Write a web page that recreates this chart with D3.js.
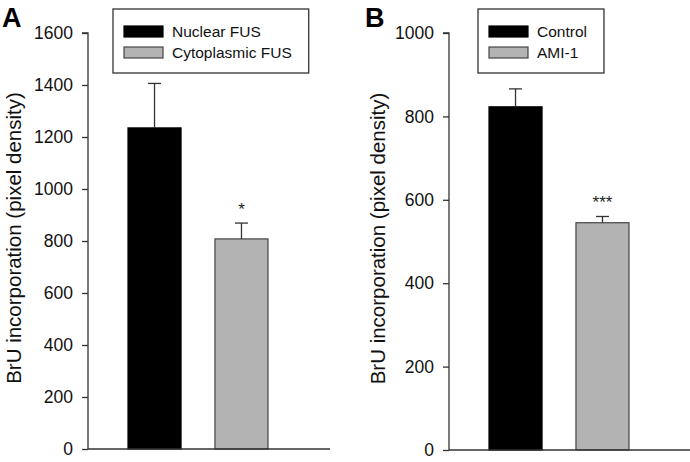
<!DOCTYPE html>
<html>
<head>
<meta charset="utf-8">
<script src="https://cdn.jsdelivr.net/npm/d3@7"></script>
<style>
	body { margin: 0; background: #fff; }
	svg { display: block; font-family: "Liberation Sans", Arial, sans-serif; }
</style>
</head>
<body>
<svg id="chart" width="690" height="462"></svg>
<script>
// panel A
const catsA = ["Nuclear FUS", "Cytoplasmic FUS"];
const valuesA = [1235, 808];
const errorsA = [171, 61];
const sigA = ["", "*"];
const ticksA = [0, 200, 400, 600, 800, 1000, 1200, 1400, 1600];

// panel B
const catsB = ["Control", "AMI-1"];
const valuesB = [823, 545];
const errorsB = [43, 15];
const sigB = ["", "***"];
const ticksB = [0, 200, 400, 600, 800, 1000];

const fills = ["#000000", "#b3b3b3"];
const strokes = ["#000000", "#444444"];
const yLabel = "BrU incorporation (pixel density)";

const svg = d3.select("#chart");

function drawPanel(opts) {
	const {letter, letterX, axisX, axisEnd, yMax, yBottom, cats, values, errors, sig, ticks, legendX, labelX} = opts;
	const g = svg.append("g");

	const y = d3.scaleLinear().domain([0, yMax]).range([yBottom, 33]);
	const x = d3.scaleBand().domain(cats).range([axisX + 40, axisX + 180]).paddingInner(0.39);

	// bars
	g.selectAll("rect.bar")
		.data(cats)
		.join("rect")
		.attr("class", "bar")
		.attr("x", d => x(d))
		.attr("width", x.bandwidth())
		.attr("y", (d, i) => y(values[i]))
		.attr("height", (d, i) => y(0) - y(values[i]))
		.attr("fill", (d, i) => fills[i])
		.attr("stroke", (d, i) => strokes[i])
		.attr("stroke-width", 1.2);

	// error bars, upper half only
	const cx = d => x(d) + x.bandwidth() / 2;
	g.selectAll("line.err")
		.data(cats)
		.join("line")
		.attr("class", "err")
		.attr("x1", cx).attr("x2", cx)
		.attr("y1", (d, i) => y(values[i]))
		.attr("y2", (d, i) => y(values[i] + errors[i]))
		.attr("stroke", "#333").attr("stroke-width", 1.3);
	g.selectAll("line.cap")
		.data(cats)
		.join("line")
		.attr("class", "cap")
		.attr("x1", d => cx(d) - 6.5).attr("x2", d => cx(d) + 6.5)
		.attr("y1", (d, i) => y(values[i] + errors[i]))
		.attr("y2", (d, i) => y(values[i] + errors[i]))
		.attr("stroke", "#333").attr("stroke-width", 1.3);

	// significance marks
	g.selectAll("text.sig")
		.data(cats)
		.join("text")
		.attr("class", "sig")
		.attr("x", cx)
		.attr("y", (d, i) => y(values[i] + errors[i]) - 8)
		.attr("text-anchor", "middle")
		.attr("font-size", 17)
		.attr("fill", "#222")
		.text((d, i) => sig[i]);

	// axes
	const yAxis = d3.axisLeft(y).tickValues(ticks).tickSize(6).tickPadding(9).tickFormat(d3.format("d"));
	const ya = g.append("g").attr("transform", `translate(${axisX},0)`).call(yAxis);
	ya.select(".domain").attr("d", `M-6,${y(yMax)}H0V${y(0)}`).attr("stroke", "#333").attr("stroke-width", 1.3);
	ya.selectAll(".tick line").attr("stroke", "#333").attr("stroke-width", 1.3);
	ya.selectAll(".tick text").attr("font-size", 17.5).attr("fill", "#111").attr("font-family", "Liberation Sans, Arial, sans-serif");

	g.append("line")
		.attr("x1", axisX).attr("x2", axisEnd)
		.attr("y1", y(0)).attr("y2", y(0))
		.attr("stroke", "#333").attr("stroke-width", 1.3);

	// axis title
	g.append("text")
		.attr("transform", `translate(${labelX},${(y(0) + y(yMax)) / 2 - 3}) rotate(-90)`)
		.attr("text-anchor", "middle")
		.attr("font-size", 20.5)
		.attr("fill", "#111")
		.text(yLabel);

	// panel letter
	g.append("text")
		.attr("x", letterX).attr("y", 27)
		.attr("font-size", 27).attr("font-weight", "bold")
		.attr("fill", "#000")
		.text(letter);

	// legend
	const leg = g.append("g").attr("transform", `translate(${legendX},9)`);
	const box = leg.append("rect").attr("fill", "#fff").attr("stroke", "#333").attr("stroke-width", 1.3).attr("height", 64);
	const items = leg.selectAll("g.item")
		.data(cats)
		.join("g")
		.attr("class", "item")
		.attr("transform", (d, i) => `translate(11,${17 + i * 21})`);
	items.append("rect")
		.attr("width", 39).attr("height", 11)
		.attr("fill", (d, i) => fills[i])
		.attr("stroke", (d, i) => strokes[i])
		.attr("stroke-width", 1.2);
	const labels = items.append("text")
		.attr("x", 48).attr("y", 11)
		.attr("font-size", 15.5)
		.attr("fill", "#111")
		.text(d => d);
	let maxW = 0;
	labels.each(function() { maxW = Math.max(maxW, this.getComputedTextLength()); });
	box.attr("width", 11 + 48 + maxW + 17);
}

drawPanel({
	letter: "A", letterX: 2, axisX: 88, axisEnd: 330, yMax: 1600, yBottom: 449,
	cats: catsA, values: valuesA, errors: errorsA, sig: sigA, ticks: ticksA,
	legendX: 113, labelX: 21
});

drawPanel({
	letter: "B", letterX: 365, axisX: 449, axisEnd: 690, yMax: 1000, yBottom: 450,
	cats: catsB, values: valuesB, errors: errorsB, sig: sigB, ticks: ticksB,
	legendX: 478, labelX: 385
});
</script>
</body>
</html>
